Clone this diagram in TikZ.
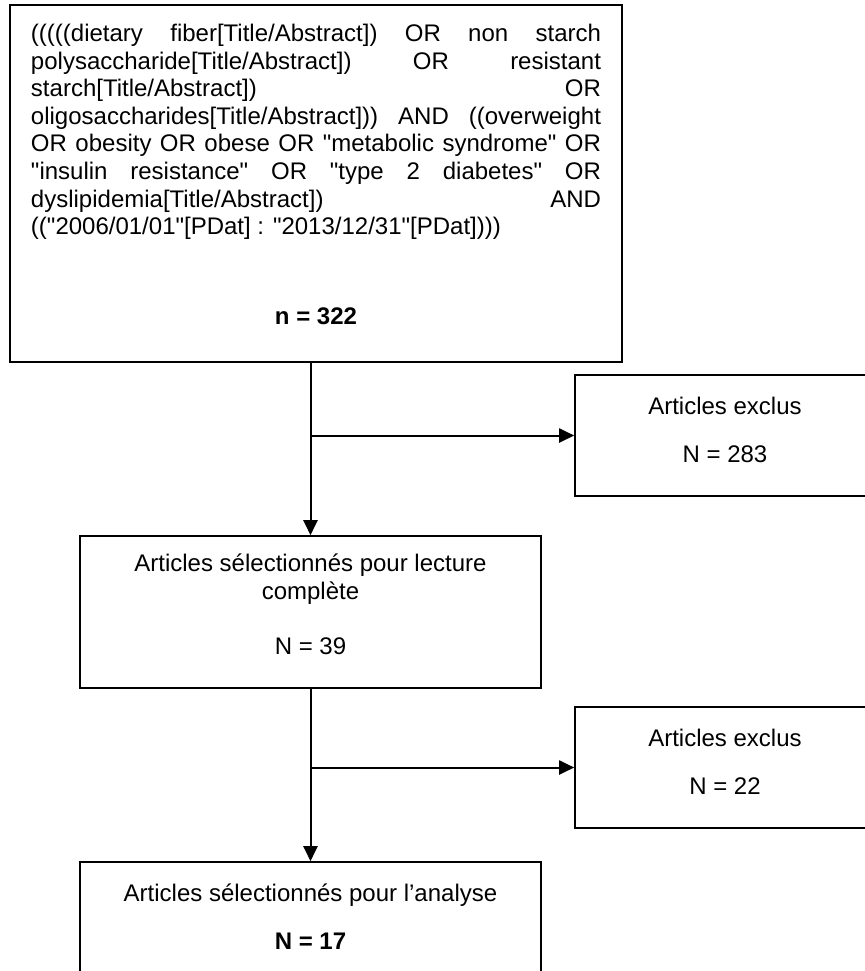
\documentclass[tikz,border=0pt]{standalone}
\usepackage{fontspec}
\setmainfont{Liberation Sans}
\usetikzlibrary{arrows.meta}
\newcommand{\qt}{\textquotedbl}

\begin{document}
\begin{tikzpicture}[x=0.5pt,y=-0.5pt,
  box/.style={draw,line width=0.8pt,align=center,inner sep=0pt,
    font=\fontsize{12}{13.8}\selectfont},
  exclbox/.style={box,minimum width=150pt,minimum height=60.5pt},
  >={Triangle[length=7.5pt,width=7pt]}]
  \useasboundingbox (0,0) rectangle (865,971);
  \node [box,
	align=justify,
	text width=285pt,
	minimum width=306pt,
	minimum height=178.5pt] (query) at (316,183.5)
	{\hyphenpenalty=10000
	(((((dietary fiber[Title/Abstract]) OR non starch\linebreak
	polysaccharide[Title/Abstract]) OR resistant\linebreak
	starch[Title/Abstract]) OR\linebreak
	oligosaccharides[Title/Abstract])) AND ((overweight\linebreak
	OR obesity OR obese OR \qt metabolic syndrome\qt{} OR\linebreak
	\qt insulin resistance\qt{} OR \qt type 2 diabetes\qt{} OR\linebreak
	dyslipidemia[Title/Abstract]) AND\linebreak
	((\qt 2006/01/01\qt[PDat] : \qt 2013/12/31\qt[PDat])))\par
	\vspace{31.2pt}
	{\centering\textbf{n = 322}\rule[-9.2pt]{0pt}{1pt}\par}};
  \node [exclbox] (excl1) at (725,435.5)
	{Articles exclus\\[10.2pt] N = 283\rule[-6.1pt]{0pt}{1pt}};
  \node [box,
	minimum width=230.5pt,
	minimum height=76pt] (full) at (310.5,612)
	{Articles sélectionnés pour lecture\\ complète\\[13.5pt] N = 39\rule[-7.9pt]{0pt}{1pt}};
  \node [exclbox] (excl2) at (725,767.5)
	{Articles exclus\\[10.2pt] N = 22\rule[-6.1pt]{0pt}{1pt}};
  \node [exclbox,
	minimum width=230.5pt] (final) at (310.5,922.5)
	{Articles sélectionnés pour l’analyse\\[10.2pt] \textbf{N = 17}\rule[-6.1pt]{0pt}{1pt}};

  \coordinate (b1) at (full.north |- excl1.west);
  \coordinate (b2) at (full.south |- excl2.west);
  \draw [line width=1pt,->] (full.north |- query.south) -- (full.north);
  \draw [line width=1pt,->] (b1) -- (excl1.west);
  \draw [line width=1pt,->] (full.south) -- (final.north);
  \draw [line width=1pt,->] (b2) -- (excl2.west);
\end{tikzpicture}
\end{document}
